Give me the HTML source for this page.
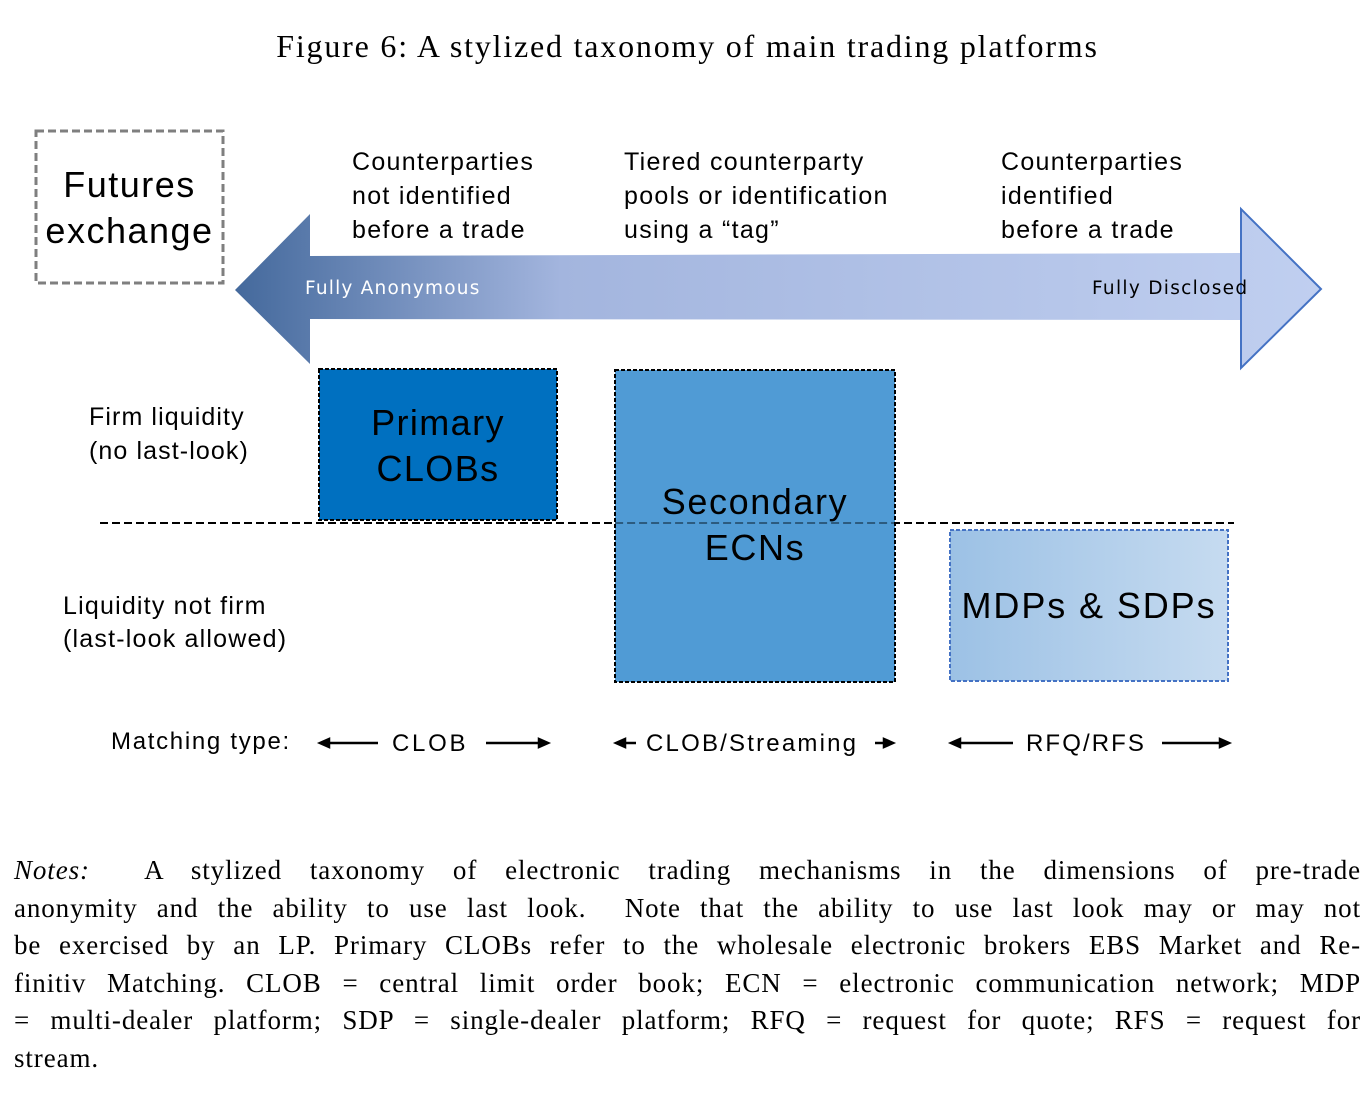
<!DOCTYPE html>
<html><head><style>
body{margin:0;background:#fff;width:1369px;height:1097px;position:relative;overflow:hidden}
.t{position:absolute;font-family:"Liberation Sans",sans-serif;color:#000;white-space:nowrap}
.notes{position:absolute;left:14px;top:852px;width:1347px;font-family:"Liberation Serif",serif;font-size:27px;line-height:37.5px;color:#000;letter-spacing:0.9px}
.notes div{text-align:justify;text-align-last:justify;white-space:nowrap;height:37.5px}
.notes div.last{text-align-last:left}
</style></head><body>
<div class="t" style="left:0;width:1375px;text-align:center;top:28px;font-family:'Liberation Serif',serif;font-size:32px;letter-spacing:1.8px">Figure 6: A stylized taxonomy of main trading platforms</div>
<svg width="1369" height="1097" style="position:absolute;left:0;top:0">
<defs>
<linearGradient id="ag" x1="0" y1="0" x2="1" y2="0">
<stop offset="0" stop-color="#44699c"/><stop offset="0.3" stop-color="#a3b5de"/><stop offset="1" stop-color="#c0cff0"/></linearGradient>
<linearGradient id="mg" x1="0" y1="0" x2="1" y2="0">
<stop offset="0" stop-color="#9cc1e5"/><stop offset="1" stop-color="#c6dbf0"/></linearGradient>
</defs>
<rect x="36" y="131" width="187" height="152" fill="none" stroke="#7f7f7f" stroke-width="3" stroke-dasharray="8,4"/>
<polygon points="235,290 310,214 310,256 1241,253 1241,209 1321,289 1241,368 1241,320 310,319 310,364" fill="url(#ag)"/>
<polygon points="1241,253 1241,209 1321,289 1241,368 1241,320" fill="none" stroke="#4472c4" stroke-width="2"/>
<line x1="100" y1="523" x2="1234" y2="523" stroke="#000" stroke-width="2" stroke-dasharray="8,4"/>
<rect x="319" y="369" width="238" height="151" fill="#0070c0" stroke="#000" stroke-width="2" stroke-dasharray="4,2"/>
<rect x="615" y="370" width="280" height="312" fill="#4a98d4" fill-opacity="0.97" stroke="#000" stroke-width="2" stroke-dasharray="4,2"/>
<line x1="615" y1="523" x2="895" y2="523" stroke="#000" stroke-width="1.5" stroke-dasharray="8,4" opacity="0.5"/>
<rect x="950" y="530" width="278" height="151" fill="url(#mg)" stroke="#4472c4" stroke-width="2" stroke-dasharray="4,2"/>
<g stroke="#000" stroke-width="2.5" fill="#000">
<line x1="326" y1="743" x2="378" y2="743"/><polygon points="320,743 329,739 329,747"/>
<line x1="486" y1="743" x2="541" y2="743"/><polygon points="548,743 539,739 539,747"/>
<line x1="622" y1="743" x2="636" y2="743"/><polygon points="616,743 625,739 625,747"/>
<line x1="875" y1="743" x2="887" y2="743"/><polygon points="893,743 884,739 884,747"/>
<line x1="957" y1="743" x2="1013" y2="743"/><polygon points="951,743 960,739 960,747"/>
<line x1="1162" y1="743" x2="1222" y2="743"/><polygon points="1229,743 1220,739 1220,747"/>
</g>
</svg>
<div class="t" style="left:36px;width:187px;text-align:center;top:162px;font-size:36px;line-height:46px;letter-spacing:1.5px">Futures<br>exchange</div>
<div class="t" style="left:352px;top:145px;font-size:25px;line-height:34px;letter-spacing:1.3px">Counterparties<br>not identified<br>before a trade</div>
<div class="t" style="left:624px;top:145px;font-size:25px;line-height:34px;letter-spacing:1.3px">Tiered counterparty<br>pools or identification<br>using a “tag”</div>
<div class="t" style="left:1001px;top:145px;font-size:25px;line-height:34px;letter-spacing:1.3px">Counterparties<br>identified<br>before a trade</div>
<div class="t" style="left:305px;top:278px;color:#fff;font-family:'DejaVu Sans',sans-serif;font-size:18.5px;letter-spacing:1.2px">Fully Anonymous</div>
<div class="t" style="left:1092px;top:278px;font-family:'DejaVu Sans',sans-serif;font-size:18.5px;letter-spacing:1.3px">Fully Disclosed</div>
<div class="t" style="left:89px;top:400px;font-size:25px;line-height:34px;letter-spacing:1.1px">Firm liquidity<br>(no last-look)</div>
<div class="t" style="left:63px;top:590px;font-size:25px;line-height:33px;letter-spacing:1.2px">Liquidity not firm<br>(last-look allowed)</div>
<div class="t" style="left:319px;width:238px;text-align:center;top:400px;font-size:36px;line-height:46px;letter-spacing:1.4px">Primary<br>CLOBs</div>
<div class="t" style="left:615px;width:280px;text-align:center;top:479px;font-size:36px;line-height:46px;letter-spacing:1.6px">Secondary<br>ECNs</div>
<div class="t" style="left:950px;width:278px;text-align:center;top:585px;font-size:36px;letter-spacing:1.9px">MDPs &amp; SDPs</div>
<div class="t" style="left:111px;top:728px;font-size:24px;letter-spacing:1.7px">Matching type:</div>
<div class="t" style="left:392px;top:730px;font-size:24px;letter-spacing:2.7px">CLOB</div>
<div class="t" style="left:646px;top:730px;font-size:24px;letter-spacing:2.2px">CLOB/Streaming</div>
<div class="t" style="left:1026px;top:730px;font-size:24px;letter-spacing:2.1px">RFQ/RFS</div>
<div class="notes">
<div><i>Notes:</i>&nbsp; A stylized taxonomy of electronic trading mechanisms in the dimensions of pre-trade</div>
<div>anonymity and the ability to use last look.&nbsp; Note that the ability to use last look may or may not</div>
<div>be exercised by an LP. Primary CLOBs refer to the wholesale electronic brokers EBS Market and Re-</div>
<div>finitiv Matching. CLOB = central limit order book; ECN = electronic communication network; MDP</div>
<div>= multi-dealer platform; SDP = single-dealer platform; RFQ = request for quote; RFS = request for</div>
<div class="last">stream.</div>
</div>
</body></html>
